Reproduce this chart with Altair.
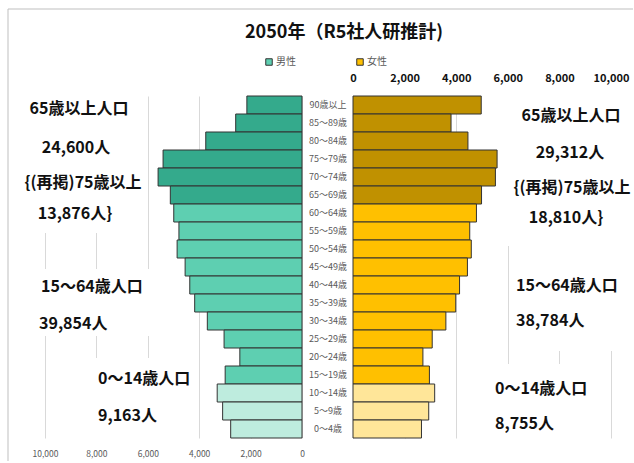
import altair as alt
import pandas as pd

FONT = "Noto Sans CJK JP"

# Age groups, top (oldest) to bottom (youngest)
ages = ["90歳以上", "85～89歳", "80～84歳", "75～79歳", "70～74歳", "65～69歳",
        "60～64歳", "55～59歳", "50～54歳", "45～49歳", "40～44歳", "35～39歳",
        "30～34歳", "25～29歳", "20～24歳", "15～19歳", "10～14歳", "5～9歳", "0～4歳"]

# Projected population by age group (persons)
male = [2145, 2580, 3745, 5406, 5600, 5124,
        4990, 4789, 4859, 4548, 4367, 4176, 3684, 3032, 2419, 2990,
        3300, 3088, 2775]
female = [4970, 3800, 4455, 5585, 5520, 4982,
          4785, 4525, 4585, 4435, 4130, 3982, 3600, 3070, 2710, 2962,
          3166, 2935, 2654]

bands = ["65+"] * 6 + ["15-64"] * 10 + ["0-14"] * 3
tick_values = [0, 2000, 4000, 6000, 8000, 10000]

color_keys = ["m65+", "m15-64", "m0-14", "f65+", "f15-64", "f0-14"]
color_vals = ["#34AA8C", "#5ECFB1", "#BEECDE", "#C09100", "#FFC000", "#FFE699"]

df_m = pd.DataFrame({"age": ages, "value": male, "key": ["m" + b for b in bands]})
df_f = pd.DataFrame({"age": ages, "value": female, "key": ["f" + b for b in bands]})

# Group totals shown beside the pyramid
m65, m75, m1564, m014 = sum(male[:6]), sum(male[:4]), sum(male[6:16]), sum(male[16:])
f65, f75, f1564, f014 = sum(female[:6]), sum(female[:4]), sum(female[6:16]), sum(female[16:])

one = pd.DataFrame({"d": [0]})

y_enc = alt.Y("age:N", sort=ages, scale=alt.Scale(paddingInner=0, paddingOuter=0), axis=None)
color_enc = alt.Color("key:N", scale=alt.Scale(domain=color_keys, range=color_vals), legend=None)

left_x = alt.X(
    "value:Q",
    scale=alt.Scale(domain=[0, 10000], range=[257, 0], nice=False, zero=True),
    axis=alt.Axis(orient="bottom", values=tick_values, format=",.0f", grid=True,
                  gridColor="#D9D9D9", domain=False, ticks=False, tickSize=0,
                  labelFontSize=8.5, labelColor="#595959", labelPadding=11,
                  labelFont=FONT, labelOverlap=False, labelFlush=False),
    title=None,
)
right_x = alt.X(
    "value:Q",
    scale=alt.Scale(domain=[0, 10000], range=[308, 566], nice=False, zero=True),
    axis=alt.Axis(orient="top", values=tick_values, format=",.0f", grid=True,
                  gridColor="#D9D9D9", domain=False, ticks=False, tickSize=0,
                  labelFontSize=11, labelFontWeight="bold", labelColor="#111111",
                  labelPadding=13, labelFont=FONT, labelOverlap=False, labelFlush=False),
    title=None,
)

male_bars = alt.Chart(df_m).mark_bar(stroke="#333333", strokeWidth=1).encode(
    x=left_x, y=y_enc, color=color_enc)
female_bars = alt.Chart(df_f).mark_bar(stroke="#333333", strokeWidth=1).encode(
    x=right_x, y=y_enc, color=color_enc)

age_labels = alt.Chart(df_m).mark_text(
    fontSize=9, color="#595959", font=FONT, align="center", baseline="middle"
).encode(x=alt.value(283), y=y_enc, text="age:N")


def label(text, x, y, align="center", size=16, weight="bold", color="#111111"):
    return alt.Chart(one).mark_text(
        align=align, baseline="middle", fontSize=size, fontWeight=weight,
        color=color, font=FONT
    ).encode(x=alt.value(x), y=alt.value(y), text=alt.value(text))


def box(x, x2, y, y2):
    return alt.Chart(one).mark_rect(fill="white", stroke=None).encode(
        x=alt.value(x), x2=alt.value(x2), y=alt.value(y), y2=alt.value(y2))


# White text boxes that sit over the gridlines
boxes = [
    box(-32, 98, -3, 137),
    box(-16, 108, 173, 240),
    box(41, 146, 262, 345),
    box(456, 588, -3, 150),
    box(466, 588, 150, 255),
    box(444, 556, 268, 345),
]

# Outer frame (top and left edges)
frame_top = alt.Chart(one).mark_rule(color="#BFBFBF", strokeWidth=1).encode(
    x=alt.value(-37), x2=alt.value(588), y=alt.value(-87))
frame_left = alt.Chart(one).mark_rule(color="#BFBFBF", strokeWidth=1).encode(
    x=alt.value(-37), y=alt.value(-87), y2=alt.value(365))

texts = [
    label("2050年（R5社人研推計)", 299, -63, size=18),
    # legend
    label("男性", 231, -34, align="left", size=10, weight="normal", color="#595959"),
    label("女性", 322, -34, align="left", size=10, weight="normal", color="#595959"),
    # male side
    label("65歳以上人口", 34, 13),
    label(f"{m65:,}人", 31, 52),
    label("{(再掲)75歳以上", 38, 87),
    label(f"{m75:,}人}}", 30, 118),
    label("15～64歳人口", -4, 191, align="left"),
    label(f"{m1564:,}人", -6, 228, align="left"),
    label("0～14歳人口", 53, 283, align="left"),
    label(f"{m014:,}人", 53, 320, align="left"),
    # female side
    label("65歳以上人口", 526, 20),
    label(f"{f65:,}人", 525, 57),
    label("{(再掲)75歳以上", 527, 92),
    label(f"{f75:,}人}}", 521, 122),
    label("15～64歳人口", 471, 190, align="left"),
    label(f"{f1564:,}人", 471, 225, align="left"),
    label("0～14歳人口", 450, 293, align="left"),
    label(f"{f014:,}人", 450, 328, align="left"),
]

legend_marks = [
    alt.Chart(one).mark_square(size=42, fill="#5ECFB1", stroke="#333333", strokeWidth=1,
                               opacity=1).encode(x=alt.value(224), y=alt.value(-34)),
    alt.Chart(one).mark_square(size=42, fill="#FFC000", stroke="#333333", strokeWidth=1,
                               opacity=1).encode(x=alt.value(315), y=alt.value(-34)),
]

chart = alt.layer(
    frame_top, frame_left, *boxes, male_bars, female_bars, age_labels,
    *legend_marks, *texts
).resolve_scale(x="independent").properties(
    width=566, height=342,
    padding={"left": 7, "top": 8, "right": 0, "bottom": 0},
    background="white",
).configure_view(stroke=None)

chart.save("out.html", embed_options={"renderer": "svg", "actions": False})
